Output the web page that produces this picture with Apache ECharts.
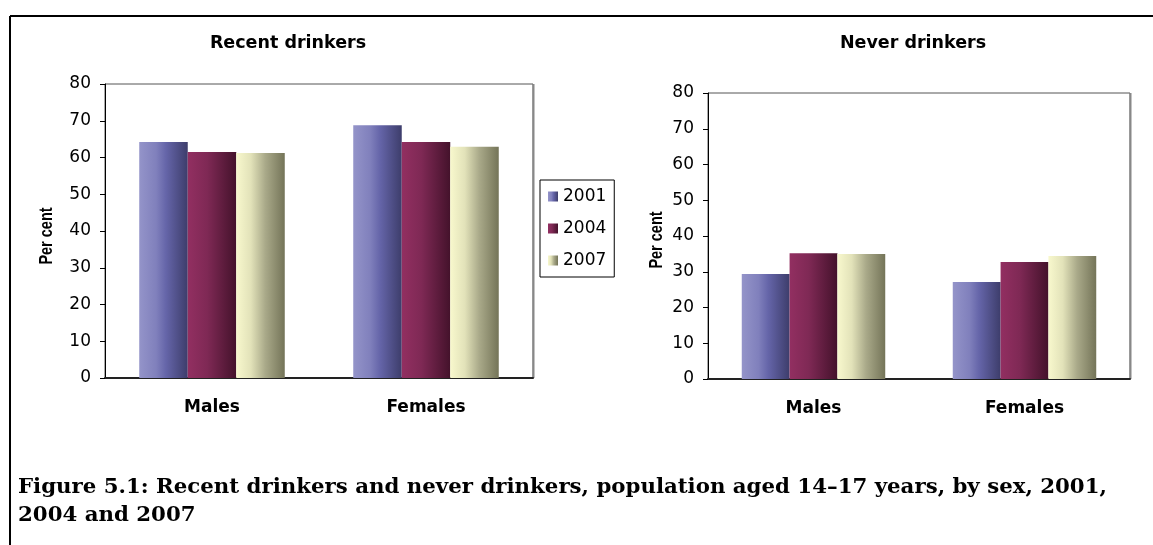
<!DOCTYPE html>
<html>
<head>
<meta charset="utf-8">
<script src="https://cdn.jsdelivr.net/npm/echarts@6/dist/echarts.min.js"></script>
<style>
html,body{margin:0;padding:0;background:#fff;}
#c{width:1153px;height:545px;}
</style>
</head>
<body>
<div id="c"></div>
<script>
// ---- data ----
const categories = ['Males', 'Females'];
const years = ['2001', '2004', '2007'];
const recent2001 = [64.2, 68.8];
const recent2004 = [61.5, 64.2];
const recent2007 = [61.2, 62.9];
const never2001 = [29.4, 27.1];
const never2004 = [35.2, 32.7];
const never2007 = [35.0, 34.4];
const yTicks = [0, 10, 20, 30, 40, 50, 60, 70, 80];
const leftTitle = 'Recent drinkers';
const rightTitle = 'Never drinkers';
const yName = 'Per cent';
const caption = 'Figure 5.1: Recent drinkers and never drinkers, population aged 14\u201317 years, by sex, 2001,\n2004 and 2007';

// ---- styling ----
const G = echarts.graphic.LinearGradient;
const grads = [
  new G(0, 0, 1, 0, [{offset: 0, color: '#9494c9'}, {offset: 0.35, color: '#8080bc'}, {offset: 0.55, color: '#6565a9'}, {offset: 1, color: '#3d3d6b'}]),
  new G(0, 0, 1, 0, [{offset: 0, color: '#922f61'}, {offset: 0.4, color: '#7f2955'}, {offset: 1, color: '#44122b'}]),
  new G(0, 0, 1, 0, [{offset: 0, color: '#f8f8cd'}, {offset: 0.3, color: '#e2e2b9'}, {offset: 0.6, color: '#a9a989'}, {offset: 1, color: '#747458'}])
];
const wide = '"DejaVu Sans", sans-serif';
const sans = '"Liberation Sans", Arial, sans-serif';

function yAxis(gridIndex) {
  return {
    type: 'value', gridIndex: gridIndex, min: yTicks[0], max: yTicks[yTicks.length - 1], interval: 10,
    axisLine: {show: true, lineStyle: {color: '#000', width: 1}},
    axisTick: {show: true, length: 5, lineStyle: {color: '#000'}},
    axisLabel: {margin: 14, fontFamily: wide, fontSize: 17, color: '#000'},
    splitLine: {show: false}
  };
}
function xAxis(gridIndex) {
  return {
    type: 'category', gridIndex: gridIndex, data: categories,
    axisLine: {show: true, lineStyle: {color: '#222', width: 2}},
    axisTick: {show: false},
    axisLabel: {margin: 21, fontFamily: wide, fontSize: 17, fontWeight: 'bold', color: '#000'}
  };
}
function bars(name, data, idx, axisIdx) {
  return {
    name: name, type: 'bar', data: data, xAxisIndex: axisIdx, yAxisIndex: axisIdx,
    barGap: '0%', barCategoryGap: '32%',
    itemStyle: {color: grads[idx]}
  };
}
function axisTitle(x, y) {
  return {type: 'text', x: x, y: y, rotation: Math.PI / 2, scaleY: 1.3,
    style: {text: yName, textAlign: 'center', textVerticalAlign: 'middle', font: 'bold 14.5px ' + sans, fill: '#000'}};
}

const chart = echarts.init(document.getElementById('c'), null, {renderer: 'canvas'});
chart.setOption({
  animation: false,
  backgroundColor: '#fff',
  grid: [
    {left: 105, top: 84, width: 428, height: 294, show: true, borderColor: '#555', borderWidth: 1, backgroundColor: '#fff'},
    {left: 708, top: 93, width: 422, height: 286, show: true, borderColor: '#555', borderWidth: 1, backgroundColor: '#fff'}
  ],
  xAxis: [xAxis(0), xAxis(1)],
  yAxis: [yAxis(0), yAxis(1)],
  legend: {
    data: years, orient: 'vertical', left: 540, top: 180,
    padding: [8, 8, 8, 8], itemGap: 15, itemWidth: 10, itemHeight: 10,
    borderColor: '#000', borderWidth: 1, icon: 'rect',
    textStyle: {fontFamily: wide, fontSize: 17, color: '#000'}
  },
  series: [
    bars(years[0], recent2001, 0, 0),
    bars(years[1], recent2004, 1, 0),
    bars(years[2], recent2007, 2, 0),
    bars(years[0], never2001, 0, 1),
    bars(years[1], never2004, 1, 1),
    bars(years[2], never2007, 2, 1)
  ],
  graphic: [
    {type: 'line', shape: {x1: 10, y1: 16, x2: 1153, y2: 16}, style: {stroke: '#000', lineWidth: 2}},
    {type: 'line', shape: {x1: 10, y1: 16, x2: 10, y2: 545}, style: {stroke: '#000', lineWidth: 2}},
    {type: 'line', shape: {x1: 533.5, y1: 84, x2: 533.5, y2: 378}, style: {stroke: '#888', lineWidth: 2}},
    {type: 'line', shape: {x1: 1130.5, y1: 93, x2: 1130.5, y2: 379}, style: {stroke: '#888', lineWidth: 2}},
    axisTitle(47, 236),
    axisTitle(657, 240),
    {type: 'text', x: 288, y: 43, style: {text: leftTitle, textAlign: 'center', textVerticalAlign: 'middle', font: 'bold 17.5px ' + wide, fill: '#000'}},
    {type: 'text', x: 913, y: 43, style: {text: rightTitle, textAlign: 'center', textVerticalAlign: 'middle', font: 'bold 17.5px ' + wide, fill: '#000'}},
    {type: 'text', x: 18, y: 473, style: {text: caption, font: 'bold 21.3px "DejaVu Serif", serif', lineHeight: 28, fill: '#000'}}
  ]
});
</script>
</body>
</html>
